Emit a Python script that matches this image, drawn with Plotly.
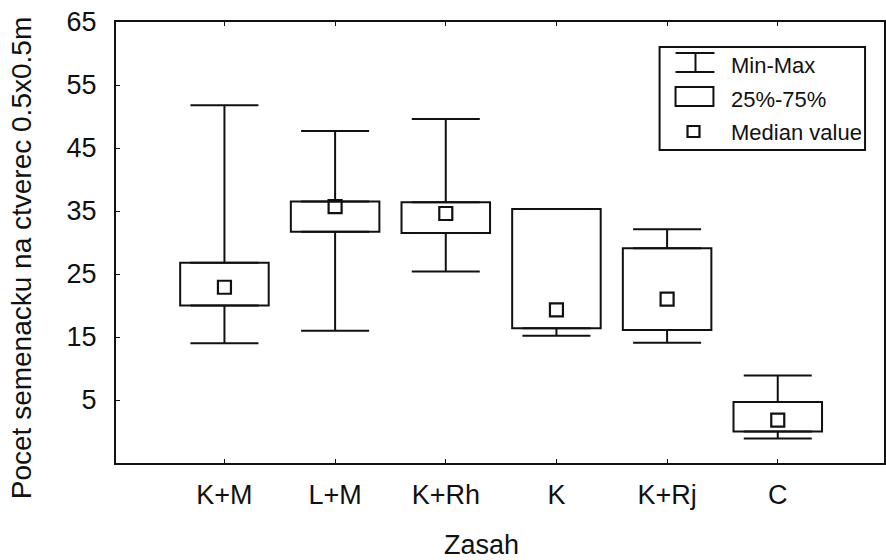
import plotly.graph_objects as go

categories = ["K+M", "L+M", "K+Rh", "K", "K+Rj", "C"]
minimum = [14, 16, 25.4, 15.2, 14.1, -1.1]
q1 = [20, 31.7, 31.5, 16.4, 16.1, 0]
median = [22.9, 35.7, 34.6, 19.3, 21, 1.8]
q3 = [26.8, 36.5, 36.4, 35.3, 29.1, 4.7]
maximum = [51.8, 47.7, 49.6, 35.3, 32.1, 8.9]
y_ticks = [5, 15, 25, 35, 45, 55, 65]

FONT = "Liberation Sans, Arial, sans-serif"
INK = "#111111"

xs = list(range(len(categories)))

fig = go.Figure()

# upper whiskers (from q3 to max)
fig.add_trace(go.Scatter(
    x=xs, y=q3, mode="markers", marker=dict(size=0.1, color="rgba(0,0,0,0)"),
    error_y=dict(type="data", symmetric=False,
                 array=[mx - a for mx, a in zip(maximum, q3)],
                 arrayminus=[0] * len(xs), color=INK, thickness=2, width=34),
    showlegend=False, hoverinfo="skip"))
# lower whiskers (from min to q1)
fig.add_trace(go.Scatter(
    x=xs, y=q1, mode="markers", marker=dict(size=0.1, color="rgba(0,0,0,0)"),
    error_y=dict(type="data", symmetric=False,
                 array=[0] * len(xs),
                 arrayminus=[a - mn for a, mn in zip(q1, minimum)],
                 color=INK, thickness=2, width=34),
    showlegend=False, hoverinfo="skip"))
# boxes 25%-75%
fig.add_trace(go.Bar(
    x=xs, y=[b - a for a, b in zip(q1, q3)], base=q1, width=0.8,
    marker=dict(color="white", line=dict(color=INK, width=2)),
    showlegend=False, hoverinfo="skip"))
# median squares
fig.add_trace(go.Scatter(
    x=xs, y=median, mode="markers",
    marker=dict(symbol="square-open", size=13, color=INK, line=dict(width=2.2, color=INK)),
    showlegend=False, hoverinfo="skip"))

L, T, B, W, H = 116, 22, 97, 886, 560
pw, ph = W - L, H - T - B


def px(xp):
    return (xp - L) / pw


def py(yp):
    return (H - B - yp) / ph


shapes = []
# legend frame
shapes.append(dict(type="rect", xref="paper", yref="paper",
                   x0=px(661), x1=px(867), y0=py(150), y1=py(47),
                   line=dict(color=INK, width=2), fillcolor="white", layer="above"))
# min-max symbol
shapes.append(dict(type="line", xref="paper", yref="paper", x0=px(677), x1=px(716), y0=py(53), y1=py(53), line=dict(color=INK, width=2)))
shapes.append(dict(type="line", xref="paper", yref="paper", x0=px(677), x1=px(716), y0=py(72), y1=py(72), line=dict(color=INK, width=2)))
shapes.append(dict(type="line", xref="paper", yref="paper", x0=px(697), x1=px(697), y0=py(53), y1=py(72), line=dict(color=INK, width=2)))
# box symbol
shapes.append(dict(type="rect", xref="paper", yref="paper", x0=px(677), x1=px(715), y0=py(106), y1=py(87), line=dict(color=INK, width=2)))
# median symbol
shapes.append(dict(type="rect", xref="paper", yref="paper", x0=px(689), x1=px(701), y0=py(137), y1=py(126), line=dict(color=INK, width=2.2)))

annotations = []
for label, yc in [("Min-Max", 65), ("25%-75%", 99), ("Median value", 132)]:
    annotations.append(dict(text=label, xref="paper", yref="paper", x=px(731), y=py(yc),
                            xanchor="left", yanchor="middle", showarrow=False,
                            font=dict(family=FONT, size=22, color=INK)))
annotations.append(dict(text="Pocet semenacku na ctverec 0.5x0.5m", xref="paper", yref="paper",
                        x=px(21), y=py(258), xanchor="center", yanchor="middle", textangle=-90,
                        showarrow=False, font=dict(family=FONT, size=28, color=INK)))
annotations.append(dict(text="Zasah", xref="paper", yref="paper",
                        x=px(482), y=py(545), xanchor="center", yanchor="middle",
                        showarrow=False, font=dict(family=FONT, size=27, color=INK)))

fig.update_layout(
    width=W, height=H,
    margin=dict(l=L, r=0, t=T, b=B),
    paper_bgcolor="white", plot_bgcolor="white",
    shapes=shapes, annotations=annotations,
    barmode="overlay",
    xaxis=dict(range=[-0.98, 5.96], tickmode="array", tickvals=xs, ticktext=categories,
               showgrid=False, zeroline=False, showline=True, linecolor=INK, linewidth=2,
               mirror="ticks", ticks="inside", ticklen=4, tickcolor=INK, tickwidth=1,
               tickfont=dict(family=FONT, size=27, color=INK), ticklabelstandoff=7),
    yaxis=dict(range=[-5, 65], tickmode="array", tickvals=y_ticks,
               showgrid=False, zeroline=False, showline=True, linecolor=INK, linewidth=2,
               mirror=True, ticks="inside", ticklen=4, tickcolor=INK, tickwidth=1,
               tickfont=dict(family=FONT, size=27, color=INK), ticklabelstandoff=12),
)

fig.write_html("out.html")
